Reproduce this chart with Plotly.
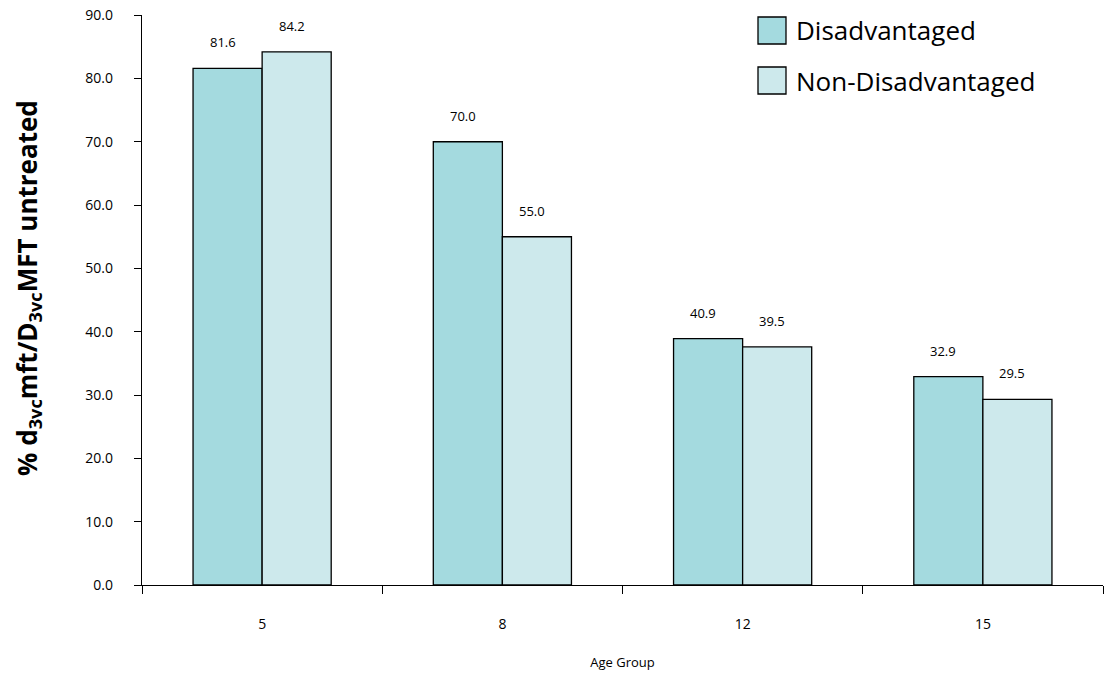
import plotly.graph_objects as go

age_groups = ["5", "8", "12", "15"]
series_names = ["Disadvantaged", "Non-Disadvantaged"]
disadvantaged = [81.6, 70.0, 38.9, 32.9]
non_disadvantaged = [84.2, 55.0, 37.6, 29.3]
dis_labels = ["81.6", "70.0", "40.9", "32.9"]
non_labels = ["84.2", "55.0", "39.5", "29.5"]
y_ticks = [0, 10, 20, 30, 40, 50, 60, 70, 80, 90]

colors = ["#A4DADF", "#CDE9EC"]
FONT = "Open Sans"

xpos = list(range(len(age_groups)))
bw = 0.2875

fig = go.Figure()
for vals, name, col, sign in [(disadvantaged, series_names[0], colors[0], -1),
                              (non_disadvantaged, series_names[1], colors[1], 1)]:
    fig.add_trace(go.Bar(
        x=[p + sign * bw / 2 for p in xpos], y=vals, width=bw, name=name,
        marker=dict(color=col, line=dict(color="black", width=1.3)),
        showlegend=False, hoverinfo="y"))

# overlay axis for category boundary ticks
fig.add_trace(go.Scatter(x=[-0.5, 3.5], y=[0, 0], xaxis="x2", mode="lines",
                         line=dict(width=0), showlegend=False, hoverinfo="skip"))

annotations = []
for vals, labels, sign in [(disadvantaged, dis_labels, -1), (non_disadvantaged, non_labels, 1)]:
    for p, v, t in zip(xpos, vals, labels):
        annotations.append(dict(x=p + sign * bw / 2, y=v, text=t, showarrow=False,
                                xref="x", yref="y", yshift=26, xshift=-5,
                                font=dict(family=FONT, size=13, color="black")))

# plot area spans 142..1103 x, 15..585 y in page pixels
def px_x(x):
    return (x - 142) / 961

def px_y(y):
    return (585 - y) / 570

# custom legend
leg_items = [(series_names[0], colors[0], 17), (series_names[1], colors[1], 67)]
shapes = []
for name, col, top in leg_items:
    shapes.append(dict(type="rect", xref="paper", yref="paper",
                       x0=px_x(758), x1=px_x(786),
                       y0=px_y(top + 27), y1=px_y(top),
                       fillcolor=col, line=dict(color="black", width=1.3)))
    annotations.append(dict(xref="paper", yref="paper", x=px_x(794),
                            y=px_y(top + 13.5), text=name, showarrow=False,
                            xanchor="left", yanchor="middle",
                            font=dict(family=FONT, size=26, color="black")))

# y-axis title
annotations.append(dict(xref="paper", yref="paper", x=px_x(28), y=px_y(288),
                        xanchor="center", yanchor="middle", textangle=-90, showarrow=False,
                        text="<b>% d<sub>3vc</sub>mft/D<sub>3vc</sub>MFT untreated</b>",
                        font=dict(family=FONT, size=26, color="black")))

fig.update_layout(
    width=1105, height=677,
    margin=dict(l=142, r=2, t=15, b=92, autoexpand=False),
    paper_bgcolor="white", plot_bgcolor="white",
    font=dict(family=FONT, color="black"),
    xaxis=dict(range=[-0.5, 3.5], tickvals=xpos, ticktext=age_groups,
               ticks="", showline=True, linecolor="black", linewidth=1.3,
               showgrid=False, zeroline=False, ticklabelstandoff=26,
               tickfont=dict(family=FONT, size=14),
               title=dict(text="Age Group", font=dict(family=FONT, size=13), standoff=25)),
    xaxis2=dict(range=[-0.5, 3.5], overlaying="x", side="bottom", anchor="y",
                tickvals=[-0.5, 0.5, 1.5, 2.5, 3.5], showticklabels=False,
                ticks="outside", ticklen=8, tickcolor="black", tickwidth=1.3,
                showgrid=False, zeroline=False, showline=False),
    yaxis=dict(range=[0, 90.02], tickvals=y_ticks, tickformat=".1f",
               ticks="outside", ticklen=7, tickcolor="black", tickwidth=1.3,
               showline=True, linecolor="black", linewidth=1.3,
               showgrid=False, zeroline=False, ticklabelstandoff=18,
               tickfont=dict(family=FONT, size=14)),
    annotations=annotations, shapes=shapes,
    bargap=0.425,
)

fig.write_html("out.html", config={"displayModeBar": False},
               post_script="document.body.style.margin='0';")
